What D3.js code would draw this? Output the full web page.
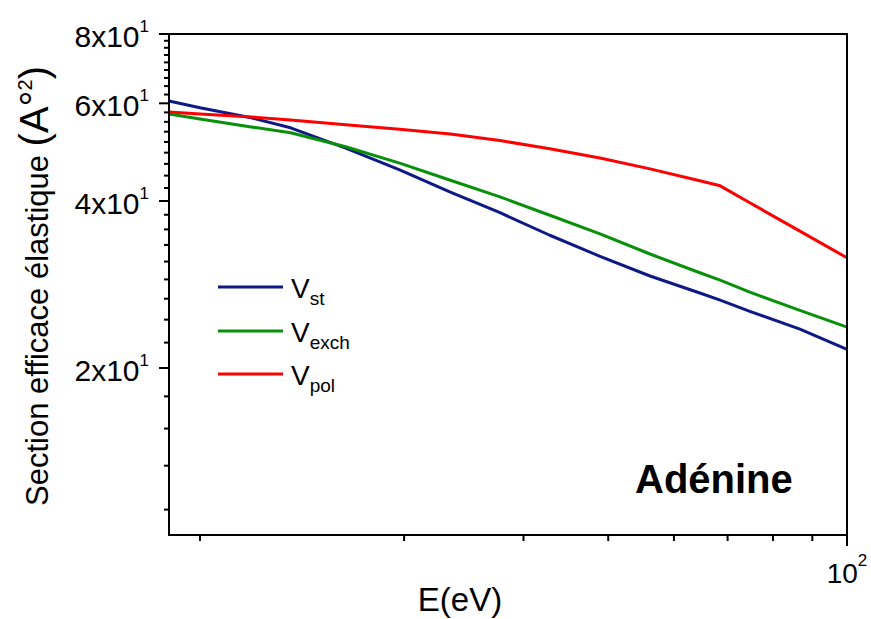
<!DOCTYPE html>
<html>
<head>
<meta charset="utf-8">
<script src="https://cdn.jsdelivr.net/npm/d3@7"></script>
<style>
  html, body { margin: 0; padding: 0; background: #fff; }
  svg { display: block; font-family: "Liberation Sans", Arial, Helvetica, sans-serif; }
</style>
</head>
<body>
<svg id="chart" width="871" height="619"></svg>
<script>
// Incident energy grid (eV) shared by the three potentials
const energy = [19, 20.0, 21.9, 23.6, 26.4, 29.7, 33.4, 37.7, 42.8, 48.9, 56.1, 64.6, 68.5, 74.7, 86.7, 100];

// Elastic cross sections (Å²) for each interaction potential
const sigmaSt   = [60.6, 58.9, 56.5, 54.2, 49.8, 45.5, 41.5, 38.1, 34.7, 31.8, 29.3, 27.3, 26.5, 25.3, 23.5, 21.6];
const sigmaExch = [57.4, 56.2, 54.4, 53.1, 50.1, 46.8, 43.6, 40.7, 37.7, 34.9, 32.1, 29.7, 28.8, 27.4, 25.4, 23.7];
const sigmaPol  = [57.9, 57.4, 56.7, 56.0, 54.9, 53.9, 52.8, 51.4, 49.7, 47.8, 45.7, 43.5, 42.6, 39.7, 35.3, 31.6];

const seriesNames  = ["st", "exch", "pol"];
const seriesColors = ["#0d1a86", "#08900a", "#ff0000"];

// Axis ticks
const xMinorTicks = [20, 30, 40, 50, 60, 70, 80, 90];
const xMajorTicks = [100];
const xMajorLabels = [["10", "2"]];
const yMajorTicks = [20, 40, 60, 80];
const yMajorLabels = [["2x10", "1"], ["4x10", "1"], ["6x10", "1"], ["8x10", "1"]];

const svg = d3.select("#chart");
const plot = { left: 169, right: 847, top: 34, bottom: 535 };

// Energy axis: logarithmic in (E - 10 eV)
const xOffset = 10;
const xLog = d3.scaleLog().domain([energy[0] - xOffset, 100 - xOffset]).range([plot.left, plot.right]);
const x = e => xLog(e - xOffset);
const y = d3.scaleLog().domain([10, 80]).range([plot.bottom, plot.top]);

// Minor y ticks: eight per 20-unit interval, continuing below the first major
const step = 20 / 9;
const yMinorTicks = [];
for (let i = 0; i < yMajorTicks.length - 1; i++) {
  for (let k = 1; k <= 8; k++) yMinorTicks.push(yMajorTicks[i] + k * step);
}
for (let k = 1; k * step < 10; k++) yMinorTicks.push(20 - k * step);

const tickG = svg.append("g").attr("stroke", "#000").attr("stroke-width", 2);

// y ticks (outward, left)
tickG.selectAll("line.ymin").data(yMinorTicks).join("line")
  .attr("x1", plot.left - 5).attr("x2", plot.left)
  .attr("y1", d => y(d)).attr("y2", d => y(d));
tickG.selectAll("line.ymaj").data(yMajorTicks).join("line")
  .attr("x1", plot.left - 10).attr("x2", plot.left)
  .attr("y1", d => y(d)).attr("y2", d => y(d));

// x ticks (outward, bottom)
tickG.selectAll("line.xmin").data(xMinorTicks).join("line")
  .attr("x1", d => x(d)).attr("x2", d => x(d))
  .attr("y1", plot.bottom).attr("y2", plot.bottom + 6);
tickG.selectAll("line.xmaj").data(xMajorTicks).join("line")
  .attr("x1", d => x(d)).attr("x2", d => x(d))
  .attr("y1", plot.bottom).attr("y2", plot.bottom + 11);

// curves
const line = d3.line().x((d, i) => x(energy[i])).y(d => y(d));
const plotG = svg.append("g");
[sigmaSt, sigmaExch, sigmaPol].forEach((s, i) => {
  plotG.append("path").datum(s)
    .attr("d", line)
    .attr("fill", "none")
    .attr("stroke", seriesColors[i])
    .attr("stroke-width", 3)
    .attr("stroke-linejoin", "round");
});

// frame
svg.append("rect")
  .attr("x", plot.left).attr("y", plot.top)
  .attr("width", plot.right - plot.left).attr("height", plot.bottom - plot.top)
  .attr("fill", "none").attr("stroke", "#000").attr("stroke-width", 2);

// y tick labels
yMajorTicks.forEach((v, i) => {
  const t = svg.append("text")
    .attr("x", 149).attr("y", y(v) + 13)
    .attr("text-anchor", "end").attr("font-size", 30).attr("fill", "#000");
  t.append("tspan").text(yMajorLabels[i][0]);
  t.append("tspan").attr("font-size", 17).attr("dy", -15).text(yMajorLabels[i][1]);
});

// x tick labels
xMajorTicks.forEach((v, i) => {
  const t = svg.append("text")
    .attr("x", x(v)).attr("y", plot.bottom + 48)
    .attr("text-anchor", "middle").attr("font-size", 28).attr("fill", "#000");
  t.append("tspan").text(xMajorLabels[i][0]);
  t.append("tspan").attr("font-size", 17).attr("dy", -17).text(xMajorLabels[i][1]);
});

// axis titles
svg.append("text")
  .attr("x", 460).attr("y", 611)
  .attr("text-anchor", "middle").attr("font-size", 33)
  .text("E(eV)");

const yt = svg.append("text")
  .attr("transform", "translate(48,506) rotate(-90)")
  .attr("text-anchor", "start").attr("font-size", 31);
yt.append("tspan").text("Section efficace élastique ");
yt.append("tspan").attr("font-size", 40).text("(A°");
yt.append("tspan").attr("font-size", 20).attr("dy", -16).text("2");
yt.append("tspan").attr("font-size", 40).attr("dy", 16).text(")");

// legend
const legendY = [287, 331, 374];
seriesNames.forEach((name, i) => {
  svg.append("line")
    .attr("x1", 218).attr("x2", 283)
    .attr("y1", legendY[i]).attr("y2", legendY[i])
    .attr("stroke", seriesColors[i]).attr("stroke-width", 3);
  const t = svg.append("text")
    .attr("x", 291).attr("y", legendY[i] + 10.5)
    .attr("font-size", 28);
  t.append("tspan").text("V");
  t.append("tspan").attr("font-size", 19).attr("dy", 7).text(name);
});

// molecule label
svg.append("text")
  .attr("x", 635).attr("y", 493)
  .attr("font-size", 40).attr("font-weight", "bold")
  .text("Adénine");
</script>
</body>
</html>
